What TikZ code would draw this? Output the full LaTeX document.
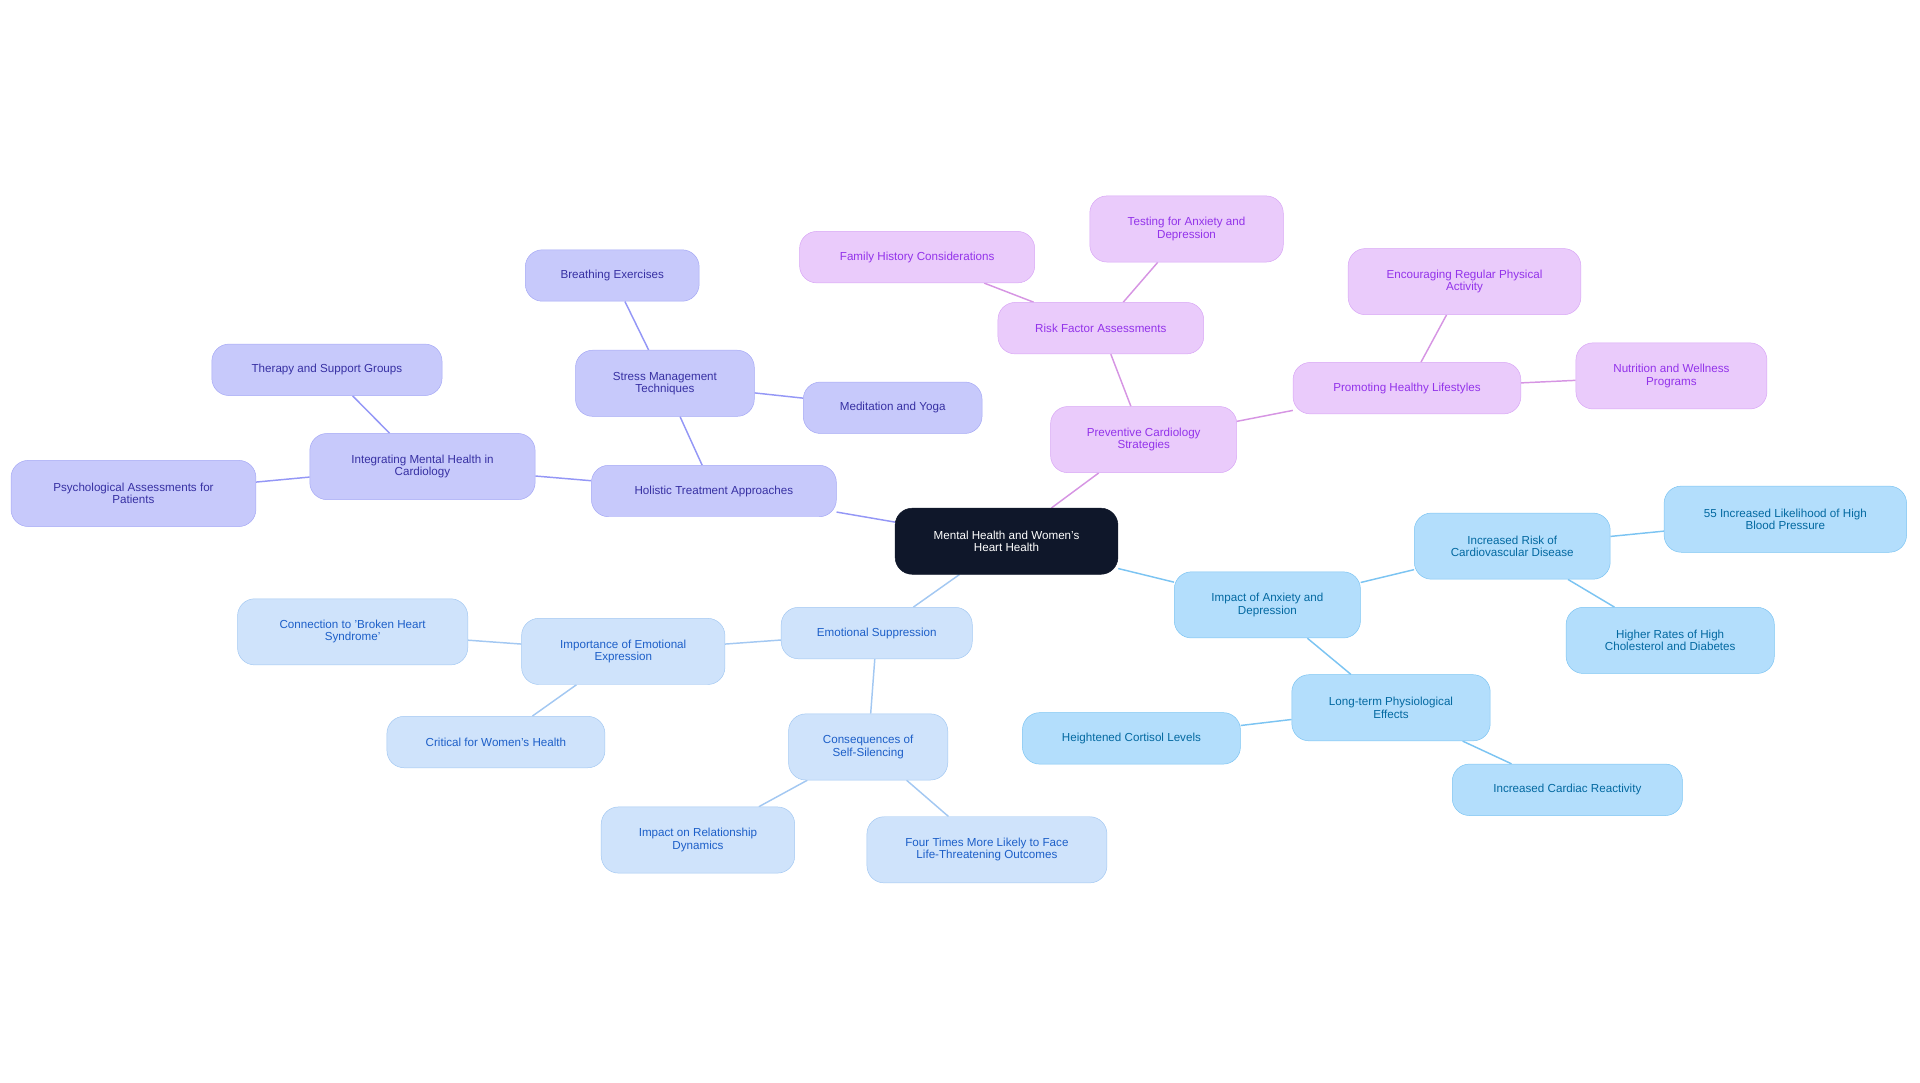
\documentclass[tikz,border=0pt]{standalone}
\usepackage{fontspec}
\setmainfont{Liberation Sans}
\usetikzlibrary{backgrounds}
\definecolor{cbk}{HTML}{0F172A}
\definecolor{vf}{HTML}{C7C9FB}\definecolor{vd}{HTML}{A5A8F5}\definecolor{vt}{HTML}{3730A3}
\definecolor{pf}{HTML}{EACBFB}\definecolor{pd}{HTML}{D8A6F5}\definecolor{pt}{HTML}{9333EA}
\definecolor{bf}{HTML}{B3DEFC}\definecolor{bd}{HTML}{7CC4F2}\definecolor{bt}{HTML}{0369A1}
\definecolor{lf}{HTML}{CFE3FB}\definecolor{ld}{HTML}{A3C8F2}\definecolor{lt}{HTML}{1D5FC8}
\tikzset{
 nd/.style={rounded corners=14pt, align=center, font=\fontsize{9.5}{10}\selectfont, inner sep=2pt, minimum height=42pt},
 tall/.style={minimum height=54pt},
 cn/.style={nd, fill=cbk, draw=cbk, text=white},
 v/.style={nd, fill=vf, draw=vd, text=vt}, ve/.style={draw=vd!90!blue, line width=1.2pt},
 p/.style={nd, fill=pf, draw=pd, text=pt}, pe/.style={draw=pd!90!purple, line width=1.2pt},
 b/.style={nd, fill=bf, draw=bd, text=bt}, be/.style={draw=bd, line width=1.2pt},
 l/.style={nd, fill=lf, draw=ld, text=lt}, le/.style={draw=ld, line width=1.2pt},
}
\begin{document}
\begin{tikzpicture}[x=1pt,y=1pt]
\useasboundingbox (0,0) rectangle (1568,-884);
\node[cn,tall,minimum width=182pt] (c) at (822,-442) {Mental Health and Women's\\Heart Health};
\node[v,minimum width=200pt] (hol) at (583,-401) {Holistic Treatment Approaches};
\node[v,tall,minimum width=146pt] (str) at (543,-313) {Stress Management\\Techniques};
\node[v,minimum width=142pt] (bre) at (500,-225) {Breathing Exercises};
\node[v,minimum width=146pt] (med) at (729,-333) {Meditation and Yoga};
\node[v,tall,minimum width=184pt] (int) at (345,-381) {Integrating Mental Health in\\Cardiology};
\node[v,minimum width=188pt] (the) at (267,-302) {Therapy and Support Groups};
\node[v,tall,minimum width=200pt] (psy) at (109,-403) {Psychological Assessments for\\Patients};
\node[p,tall,minimum width=152pt] (pre) at (934,-359) {Preventive Cardiology\\Strategies};
\node[p,minimum width=168pt] (ris) at (899,-268) {Risk Factor Assessments};
\node[p,minimum width=192pt] (fam) at (749,-210) {Family History Considerations};
\node[p,tall,minimum width=158pt] (tes) at (969,-187) {Testing for Anxiety and\\Depression};
\node[p,minimum width=186pt] (pro) at (1149,-317) {Promoting Healthy Lifestyles};
\node[p,tall,minimum width=190pt] (enc) at (1196,-230) {Encouraging Regular Physical\\Activity};
\node[p,tall,minimum width=156pt] (nut) at (1365,-307) {Nutrition and Wellness\\Programs};
\node[b,tall,minimum width=152pt] (imp) at (1035,-494) {Impact of Anxiety and\\Depression};
\node[b,tall,minimum width=160pt] (inc) at (1235,-446) {Increased Risk of\\Cardiovascular Disease};
\node[b,tall,minimum width=198pt] (ff) at (1458,-424) {55 Increased Likelihood of High\\Blood Pressure};
\node[b,tall,minimum width=170pt] (hig) at (1364,-523) {Higher Rates of High\\Cholesterol and Diabetes};
\node[b,tall,minimum width=162pt] (lon) at (1136,-578) {Long-term Physiological\\Effects};
\node[b,minimum width=178pt] (hei) at (924,-603) {Heightened Cortisol Levels};
\node[b,minimum width=188pt] (car) at (1280,-645) {Increased Cardiac Reactivity};
\node[l,minimum width=156pt] (emo) at (716,-517) {Emotional Suppression};
\node[l,tall,minimum width=166pt] (imo) at (509,-532) {Importance of Emotional\\Expression};
\node[l,tall,minimum width=188pt] (con) at (288,-516) {Connection to 'Broken Heart\\Syndrome'};
\node[l,minimum width=178pt] (cri) at (405,-606) {Critical for Women's Health};
\node[l,tall,minimum width=130pt] (cos) at (709,-610) {Consequences of\\Self-Silencing};
\node[l,tall,minimum width=158pt] (rel) at (570,-686) {Impact on Relationship\\Dynamics};
\node[l,tall,minimum width=196pt] (fou) at (806,-694) {Four Times More Likely to Face\\Life-Threatening Outcomes};
\begin{scope}[on background layer]
\draw[ve] (c)--(hol); \draw[ve] (hol)--(str); \draw[ve] (str)--(bre); \draw[ve] (str)--(med);
\draw[ve] (hol)--(int); \draw[ve] (int)--(the); \draw[ve] (int)--(psy);
\draw[pe] (c)--(pre); \draw[pe] (pre)--(ris); \draw[pe] (ris)--(fam); \draw[pe] (ris)--(tes);
\draw[pe] (pre)--(pro); \draw[pe] (pro)--(enc); \draw[pe] (pro)--(nut);
\draw[be] (c)--(imp); \draw[be] (imp)--(inc); \draw[be] (inc)--(ff); \draw[be] (inc)--(hig);
\draw[be] (imp)--(lon); \draw[be] (lon)--(hei); \draw[be] (lon)--(car);
\draw[le] (c)--(emo); \draw[le] (emo)--(imo); \draw[le] (imo)--(con); \draw[le] (imo)--(cri);
\draw[le] (emo)--(cos); \draw[le] (cos)--(rel); \draw[le] (cos)--(fou);
\end{scope}
\end{tikzpicture}
\end{document}
